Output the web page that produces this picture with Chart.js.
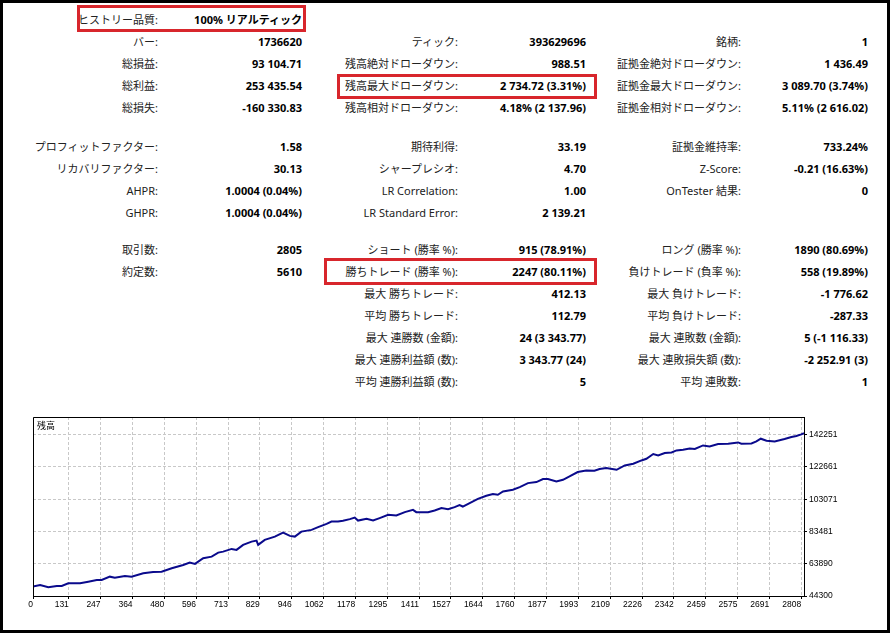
<!DOCTYPE html>
<html>
<head>
<meta charset="utf-8">
<script src="https://cdn.jsdelivr.net/npm/chart.js@4.4.1/dist/chart.umd.min.js"></script>
<style>
body{margin:0;background:#fff;width:891px;height:633px;overflow:hidden;position:relative;font-family:"Noto Sans","Noto Sans CJK JP",sans-serif;}
#frame{position:absolute;left:0;top:0;width:890px;height:633px;box-sizing:border-box;border:3px solid #000;pointer-events:none;z-index:3;}
.lbl,.val{position:absolute;width:300px;height:16px;line-height:16px;font-size:11px;text-align:right;white-space:nowrap;}
.lbl{color:#222;}
.val{color:#000;font-weight:bold;}
.box{position:absolute;box-sizing:border-box;border:3px solid #d8262c;z-index:2;}
#chartWrap{position:absolute;left:0;top:400px;width:891px;height:228px;}
</style>
</head>
<body>
<div id="frame"></div>
<div id="stats"></div>
<div class="box" style="left:77px;top:5px;width:229px;height:27px;"></div>
<div class="box" style="left:337px;top:74px;width:260px;height:25px;"></div>
<div class="box" style="left:324px;top:258px;width:273px;height:27px;"></div>
<div id="chartWrap"><canvas id="balanceChart" width="891" height="228"></canvas></div>
<script>
// report table, column by column (row index, label, value)
const col1Rows = [0, 1, 2, 3, 4, 5, 6, 7, 8, 9, 10];
const col1Labels = ['ヒストリー品質:', 'バー:', '総損益:', '総利益:', '総損失:', 'プロフィットファクター:', 'リカバリファクター:', 'AHPR:', 'GHPR:', '取引数:', '約定数:'];
const col1Values = ['100% リアルティック', '1736620', '93 104.71', '253 435.54', '-160 330.83', '1.58', '30.13', '1.0004 (0.04%)', '1.0004 (0.04%)', '2805', '5610'];

const col2Rows = [1, 2, 3, 4, 5, 6, 7, 8, 9, 10, 11, 12, 13, 14, 15];
const col2Labels = ['ティック:', '残高絶対ドローダウン:', '残高最大ドローダウン:', '残高相対ドローダウン:', '期待利得:', 'シャープレシオ:', 'LR Correlation:', 'LR Standard Error:', 'ショート (勝率 %):', '勝ちトレード (勝率 %):', '最大 勝ちトレード:', '平均 勝ちトレード:', '最大 連勝数 (金額):', '最大 連勝利益額 (数):', '平均 連勝利益額 (数):'];
const col2Values = ['393629696', '988.51', '2 734.72 (3.31%)', '4.18% (2 137.96)', '33.19', '4.70', '1.00', '2 139.21', '915 (78.91%)', '2247 (80.11%)', '412.13', '112.79', '24 (3 343.77)', '3 343.77 (24)', '5'];

const col3Rows = [1, 2, 3, 4, 5, 6, 7, 9, 10, 11, 12, 13, 14, 15];
const col3Labels = ['銘柄:', '証拠金絶対ドローダウン:', '証拠金最大ドローダウン:', '証拠金相対ドローダウン:', '証拠金維持率:', 'Z-Score:', 'OnTester 結果:', 'ロング (勝率 %):', '負けトレード (負率 %):', '最大 負けトレード:', '平均 負けトレード:', '最大 連敗数 (金額):', '最大 連敗損失額 (数):', '平均 連敗数:'];
const col3Values = ['1', '1 436.49', '3 089.70 (3.74%)', '5.11% (2 616.02)', '733.24%', '-0.21 (16.63%)', '0', '1890 (80.69%)', '558 (19.89%)', '-1 776.62', '-287.33', '5 (-1 116.33)', '-2 252.91 (3)', '1'];

// balance curve (trade number, balance)
const balanceX = [0, 26, 56, 87, 105, 129, 172, 202, 233, 251, 281, 299, 336, 360, 403, 439, 470, 507, 549, 573, 592, 622, 653, 677, 695, 726, 744, 768, 799, 817, 823, 847, 884, 914, 939, 957, 981, 1018, 1042, 1073, 1091, 1115, 1133, 1158, 1176, 1188, 1219, 1243, 1267, 1298, 1328, 1359, 1389, 1401, 1429, 1444, 1468, 1493, 1517, 1541, 1559, 1571, 1596, 1626, 1657, 1681, 1699, 1718, 1754, 1779, 1809, 1840, 1864, 1882, 1913, 1937, 1961, 1991, 2022, 2052, 2071, 2095, 2133, 2163, 2194, 2224, 2242, 2267, 2285, 2309, 2334, 2352, 2376, 2400, 2419, 2449, 2473, 2504, 2541, 2577, 2589, 2626, 2644, 2660, 2681, 2711, 2747, 2772, 2790, 2808, 2818];
const balanceY = [50000, 50990, 49600, 50380, 50380, 52030, 52030, 53000, 54040, 54040, 56050, 55430, 56460, 56050, 58110, 58900, 59090, 61150, 63160, 64560, 63770, 67240, 68210, 70650, 71250, 72890, 72290, 75330, 77330, 77940, 75330, 78370, 80380, 82810, 80800, 80380, 83420, 84450, 86100, 88110, 89510, 89510, 89940, 90970, 91940, 90110, 91150, 90110, 91580, 93580, 93160, 95220, 96620, 95220, 95220, 95220, 96200, 97660, 97050, 98260, 99490, 98630, 100700, 103310, 105140, 106170, 105750, 107750, 108790, 110440, 112860, 113480, 115300, 115300, 113840, 114880, 116890, 119560, 120530, 120360, 121390, 122000, 120960, 123580, 124610, 126620, 127650, 130510, 129660, 131120, 131490, 132700, 133130, 133920, 133550, 135740, 135130, 136590, 136770, 137570, 136770, 136960, 138170, 139820, 138600, 138170, 139640, 140860, 141460, 142440, 143105];

const xTicks = [0, 131, 247, 364, 480, 596, 713, 829, 946, 1062, 1178, 1295, 1411, 1527, 1644, 1760, 1877, 1993, 2109, 2226, 2342, 2459, 2575, 2691, 2808];
const yTicks = [44300, 63890, 83481, 103071, 122661, 142251];

// row centres of the table
const rowY = [20, 42, 64, 86, 108, 147, 169, 191, 213, 250, 272, 294, 316, 338, 360, 382];

let stats = document.getElementById('stats');
function addColumn(rows, labels, values, labelRight, valueRight) {
    rows.forEach((r, i) => {
        let l = document.createElement('div');
        l.className = 'lbl';
        l.style.left = (labelRight - 300) + 'px';
        l.style.top = (rowY[r] - 8) + 'px';
        l.textContent = labels[i];
        stats.appendChild(l);
        let v = document.createElement('div');
        v.className = 'val';
        v.style.left = (valueRight - 300) + 'px';
        v.style.top = (rowY[r] - 8) + 'px';
        v.textContent = values[i];
        stats.appendChild(v);
    });
}
addColumn(col1Rows, col1Labels, col1Values, 158, 302);
addColumn(col2Rows, col2Labels, col2Values, 458, 586);
addColumn(col3Rows, col3Labels, col3Values, 741, 868);

const boxPlugin = {
    id: 'boxPlugin',
    afterDraw(chart) {
        let ctx = chart.ctx;
        let a = chart.chartArea;
        ctx.save();
        ctx.strokeStyle = '#000';
        ctx.lineWidth = 1;
        ctx.beginPath();
        ctx.moveTo(a.left + 0.5, a.bottom);
        ctx.lineTo(a.left + 0.5, a.top + 0.5);
        ctx.lineTo(a.right, a.top + 0.5);
        ctx.stroke();
        ctx.fillStyle = '#000';
        ctx.font = '9px "Noto Sans CJK JP"';
        ctx.textBaseline = 'middle';
        ctx.fillText('残高', a.left + 4, a.top + 9);
        ctx.restore();
    }
};

let graphic = document.getElementById('balanceChart');
if (graphic) {
    let ctx = graphic.getContext('2d');
    let tickFont = { family: 'Liberation Sans', size: 8.5 };
    let balanceChart = new Chart(ctx, {
        type: 'line',
        data: {
            datasets: [{
                data: balanceX.map((x, i) => ({ x: x, y: balanceY[i] })),
                borderColor: '#0a0a8c',
                borderWidth: 2,
                pointRadius: 0,
                tension: 0,
                fill: false,
            }],
        },
        options: {
            responsive: false,
            animation: false,
            devicePixelRatio: 1,
            layout: { padding: { left: 33, top: 17, right: 37, bottom: 12 } },
            plugins: {
                legend: { display: false },
                tooltip: { enabled: false },
            },
            scales: {
                x: {
                    type: 'linear',
                    min: 0,
                    max: 2818,
                    afterBuildTicks: s => { s.ticks = xTicks.map(v => ({ value: v })); },
                    afterFit: s => { s.height = 20; },
                    ticks: { autoSkip: false, maxRotation: 0, align: 'end', padding: 1, color: '#000', font: tickFont, callback: v => String(v) },
                    grid: { color: '#c8c8c8', lineWidth: 1, tickLength: 3, tickColor: '#000', tickBorderDash: [] },
                    border: { display: true, color: '#000', width: 1, dash: [3, 2] },
                },
                y: {
                    position: 'right',
                    min: 44300,
                    max: 153000,
                    afterBuildTicks: s => { s.ticks = yTicks.map(v => ({ value: v })); },
                    afterFit: s => { s.width = 50; },
                    ticks: { autoSkip: false, padding: 2, color: '#000', font: tickFont, callback: v => String(v) },
                    grid: { color: '#c8c8c8', lineWidth: 1, tickLength: 3, tickColor: '#000', tickBorderDash: [] },
                    border: { display: true, color: '#000', width: 1, dash: [3, 2] },
                },
            },
        },
        plugins: [boxPlugin],
    });
}
</script>
</body>
</html>
